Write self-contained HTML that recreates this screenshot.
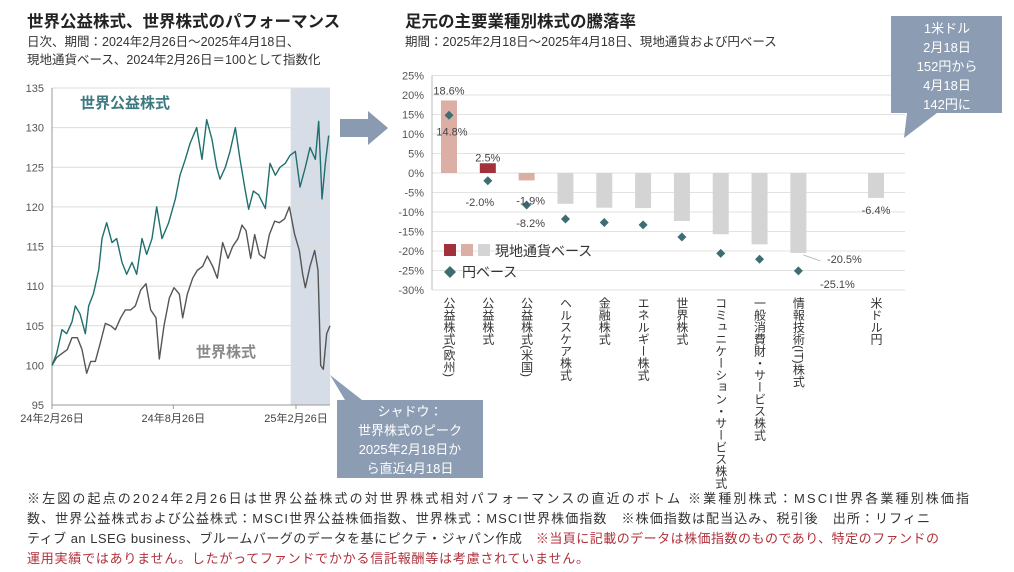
<!DOCTYPE html>
<html><head><meta charset="utf-8"><style>
body{margin:0;background:#fff;}
svg{display:block;font-family:"Liberation Sans","Noto Sans CJK JP",sans-serif;}
</style></head><body>
<svg id="s" width="1014" height="572" viewBox="0 0 1014 572" xmlns="http://www.w3.org/2000/svg">
<text x="27" y="27" font-size="16.5" font-weight="bold" fill="#222">世界公益株式、世界株式のパフォーマンス</text>
<text x="27" y="46" font-size="12.5" fill="#333">日次、期間：2024年2月26日～2025年4月18日、</text>
<text x="27" y="64" font-size="12.5" fill="#333">現地通貨ベース、2024年2月26日＝100として指数化</text>
<text x="405" y="27" font-size="16.5" font-weight="bold" fill="#222">足元の主要業種別株式の騰落率</text>
<text x="405" y="46" font-size="12.5" fill="#333">期間：2025年2月18日～2025年4月18日、現地通貨および円ベース</text>
<g id="left"></g>
<g id="right"></g>
<polygon points="340,119 368,119 368,111 388,128 368,145 368,137 340,137" fill="#8a9bb1"/>
<g>
<polygon points="891,16 1002,16 1002,113 937,113 904,138 907,113 891,113" fill="#8c9db3"/>
<g font-size="13" fill="#fff" text-anchor="middle">
<text x="947" y="33">1米ドル</text><text x="947" y="52">2月18日</text><text x="947" y="71">152円から</text><text x="947" y="90">4月18日</text><text x="947" y="109">142円に</text></g></g>
<g>
<polygon points="330,375 362,400 483,400 483,478 337,478 337,400 345,400" fill="#8c9db3"/>
<g font-size="13" fill="#fff" text-anchor="middle">
<text x="410" y="416">シャドウ：</text><text x="410" y="435">世界株式のピーク</text><text x="410" y="454">2025年2月18日か</text><text x="410" y="473">ら直近4月18日</text></g></g>
<g font-size="13" fill="#333">
<text x="27" y="503" textLength="942" lengthAdjust="spacing">※左図の起点の2024年2月26日は世界公益株式の対世界株式相対パフォーマンスの直近のボトム ※業種別株式：MSCI世界各業種別株価指</text>
<text x="27" y="523" textLength="903" lengthAdjust="spacing">数、世界公益株式および公益株式：MSCI世界公益株価指数、世界株式：MSCI世界株価指数　※株価指数は配当込み、税引後　出所：リフィニ</text>
<text x="27" y="543" textLength="912" lengthAdjust="spacing">ティブ an LSEG business、ブルームバーグのデータを基にピクテ・ジャパン作成　<tspan fill="#b0303a">※当頁に記載のデータは株価指数のものであり、特定のファンドの</tspan></text>
<text x="27" y="563" fill="#b0303a" textLength="562" lengthAdjust="spacing">運用実績ではありません。したがってファンドでかかる信託報酬等は考慮されていません。</text>
</g>
</svg>
<script>
// ---- left chart data ----
const utilDays=[0,7,15,22,30,35,42,50,55,62,70,75,82,90,97,105,112,120,127,135,142,150,157,165,175,185,192,200,207,217,225,232,240,247,252,260,267,275,282,290,295,302,310,320,327,335,342,350,357,365,372,380,387,395,400,405,410,415];
const utilVals=[100,101.5,104.5,104,105.5,107.5,106.5,104,107.5,109,112,116,118,115.5,116,113,111.5,113,111.5,116,114,116,120,116,118,121,124,126,128,130,126,131,128.5,125,123.5,125,127,130,126,122,119.7,122,121.5,119.8,125.5,124,125,125.5,126.5,127,122.5,125,127.5,126,130.8,121,125.5,129];
const worldDays=[0,7,15,23,30,38,45,52,58,65,73,80,88,95,103,110,118,125,133,141,148,156,161,168,176,183,191,196,203,211,218,226,233,241,248,256,264,271,279,285,291,298,304,311,319,326,334,341,349,356,364,371,376,380,387,394,399,403,407,412,417];
const worldVals=[100,101,101.5,102,103.5,103.5,102,99,100.5,100.5,103,105.3,105,104.5,106,107,107,107.5,109.5,110.3,107,106,100.8,105,108.5,109.8,109,106,109,111,112,112.5,113.8,112.5,111,115.5,113.5,115,116,117.7,117,113.5,116.5,114,113.5,116.5,118.2,118,118.5,120,116.5,114.5,111.5,109.8,112.5,114.5,112,100,99.5,104,105];
const leftYTicks=[95,100,105,110,115,120,125,130,135];
const leftXTicks=[[0,"24年2月26日"],[182,"24年8月26日"],[366,"25年2月26日"]];
const shadeRange=[358,417];
// ---- right chart data ----
const categories=["公益株式(欧州)","公益株式","公益株式(米国)","ヘルスケア株式","金融株式","エネルギー株式","世界株式","コミュニケーション・サービス株式","一般消費財・サービス株式","情報技術(IT)株式","","米ドル円"];
const localVals=[18.6,2.5,-1.9,-7.9,-8.9,-9.0,-12.3,-15.7,-18.3,-20.5,null,-6.4];
const yenVals=[14.8,-2.0,-8.2,-11.8,-12.7,-13.3,-16.4,-20.6,-22.1,-25.1,null,null];
const barColors=["#dcafa6","#a3313b","#dcafa6","#d4d4d4","#d4d4d4","#d4d4d4","#d4d4d4","#d4d4d4","#d4d4d4","#d4d4d4","#d4d4d4","#d4d4d4"];
const rightYTicks=[25,20,15,10,5,0,-5,-10,-15,-20,-25,-30];
const localLabels=[[0,"18.6%"],[1,"2.5%"],[2,"-1.9%"],[9,"-20.5%"],[11,"-6.4%"]];
const yenLabels=[[0,"14.8%"],[1,"-2.0%"],[2,"-8.2%"],[9,"-25.1%"]];

const NS="http://www.w3.org/2000/svg";
function mk(parent,tag,attrs,text){const e=document.createElementNS(NS,tag);for(const k in attrs)e.setAttribute(k,attrs[k]);if(text!==undefined)e.textContent=text;parent.appendChild(e);return e;}

// left axes
const L=document.getElementById('left');
const lx=d=>52+d*0.6667, ly=v=>88+(135-v)*7.925;
let sh=mk(L,'rect',{x:lx(shadeRange[0]),y:ly(135),width:lx(shadeRange[1])-lx(shadeRange[0]),height:ly(95)-ly(135),fill:'#d6dde7'});


leftYTicks.forEach(v=>{
 if(v>95){const g=mk(L,'line',{x1:52,x2:330,y1:ly(v),y2:ly(v),stroke:'#dcdcdc','stroke-width':1});
 
 }
 const t=mk(L,'text',{x:44,y:ly(v)+4,'font-size':11,fill:'#555','text-anchor':'end'},v);
 
 
});
let ax=mk(L,'line',{x1:52,x2:330,y1:ly(95),y2:ly(95),stroke:'#999'});


let ay=mk(L,'line',{x1:52,x2:52,y1:ly(135),y2:ly(95),stroke:'#999'});


leftXTicks.forEach(([d,s])=>{
 mk(L,'line',{x1:lx(d),x2:lx(d),y1:ly(95),y2:ly(95)+4,stroke:'#999'});
 const t=mk(L,'text',{x:lx(d),y:ly(95)+17,'font-size':11,fill:'#444','text-anchor':'middle'},s);
 
 
});
function line(days,vals,color,name){
 const p=mk(L,'polyline',{points:days.map((d,i)=>lx(d)+','+ly(vals[i])).join(' '),fill:'none',stroke:color,'stroke-width':1.4,'stroke-linejoin':'round'});
 
 
}
line(worldDays,worldVals,'#555','world-equity-line');
line(utilDays,utilVals,'#1f6f6f','world-utilities-line');
let t1=mk(L,'text',{x:80,y:108,'font-size':15,'font-weight':'bold',fill:'#3d7a80'},'世界公益株式');


let t2=mk(L,'text',{x:196,y:357,'font-size':15,'font-weight':'bold',fill:'#8a8a8a'},'世界株式');



// right chart
const R=document.getElementById('right');
const rx=i=>449+i*38.82, ry=v=>173-v*3.9;
rightYTicks.forEach(v=>{
 const g=mk(R,'line',{x1:432,x2:905,y1:ry(v),y2:ry(v),stroke:'#e2e2e2'});
 
 
 const t=mk(R,'text',{x:424,y:ry(v)+4,'font-size':11,fill:'#555','text-anchor':'end'},v+'%');
 
 
});
let ray=mk(R,'line',{x1:432,x2:432,y1:ry(25),y2:ry(-30),stroke:'#bbb'});


localVals.forEach((v,i)=>{
 if(v===null)return;
 const b=mk(R,'rect',{x:rx(i)-8,y:Math.min(ry(v),ry(0)),width:16,height:Math.abs(ry(v)-ry(0)),fill:barColors[i]});
 
 
});
yenVals.forEach((v,i)=>{
 if(v===null)return;
 const c=ry(v);
 const d=mk(R,'polygon',{points:`${rx(i)},${c-4.5} ${rx(i)+4.5},${c} ${rx(i)},${c+4.5} ${rx(i)-4.5},${c}`,fill:'#3d6d73'});
 
 
});
categories.forEach((s,i)=>{
 if(!s)return;
 const t=mk(R,'text',{x:rx(i),y:297,'font-size':12,fill:'#333','writing-mode':'vertical-rl','glyph-orientation-vertical':0},s);
 
 
});
const lOff={0:[0,-10],1:[0,-6],2:[4,20],9:[46,6],11:[0,12]};
localLabels.forEach(([i,s])=>{
 const v=localVals[i],o=lOff[i];
 const t=mk(R,'text',{x:rx(i)+o[0],y:ry(v)+o[1]+4,'font-size':11,fill:'#444','text-anchor':'middle'},s);
 
 
});
const yOff={0:[3,20],1:[-8,25],2:[4,22],9:[39,17]};
yenLabels.forEach(([i,s])=>{
 const o=yOff[i];
 const t=mk(R,'text',{x:rx(i)+o[0],y:ry(yenVals[i])+o[1],'font-size':11,fill:'#444','text-anchor':'middle'},s);
 
 
});
mk(R,'line',{x1:rx(9)+5,x2:rx(9)+22,y1:ry(-20.5)+2,y2:ry(-20.5)+8,stroke:'#bbb'});
// legend
const lg=mk(R,'g',{});


[["#a3313b",444],["#dcafa6",461],["#d4d4d4",478]].forEach(([c,x])=>mk(lg,'rect',{x:x,y:244,width:12,height:12,fill:c}));
mk(lg,'text',{x:495,y:256,'font-size':14,fill:'#333'},'現地通貨ベース');
mk(lg,'polygon',{points:'450,266 456,272 450,278 444,272',fill:'#3d6d73'});
mk(lg,'text',{x:462,y:277,'font-size':14,fill:'#333'},'円ベース');
</script>
</body></html>
